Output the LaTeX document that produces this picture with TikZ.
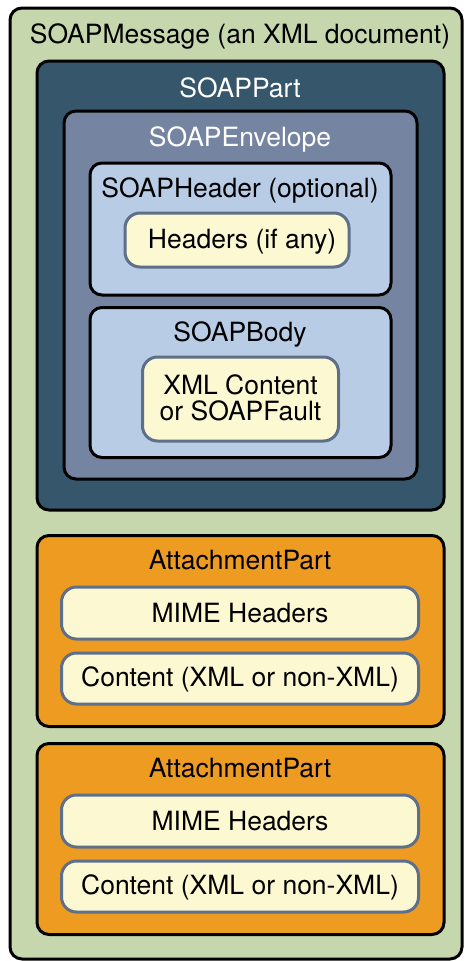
\documentclass[tikz,border=0pt]{standalone}
\usepackage{fontspec}
\setmainfont{TeX Gyre Heros}
\definecolor{msggreen}{HTML}{C6D6AD}
\definecolor{partblue}{HTML}{36566C}
\definecolor{envblue}{HTML}{7585A1}
\definecolor{hdrblue}{HTML}{B9CCE6}
\definecolor{leafyellow}{HTML}{FCF8D2}
\definecolor{leafedge}{HTML}{5E6F8A}
\definecolor{attorange}{HTML}{EE9B22}
\tikzset{
  soapbox/.style={draw=black, line width=3pt, rounded corners=12pt, inner sep=0pt, outer sep=0pt},
  leafbox/.style={draw=leafedge, fill=leafyellow, line width=3pt, rounded corners=15pt, inner sep=0pt, outer sep=0pt},
  lbl/.style={anchor=base, inner sep=0pt, font=\fontsize{26.5}{26}\selectfont}
}
\begin{document}
\begin{tikzpicture}[x=1pt,y=-1pt]
\useasboundingbox (0,0) rectangle (464,961);
% message and SOAP part
\node[soapbox, fill=msggreen, minimum width=452pt, minimum height=951pt] (msg) at (236,483.5) {};
\node[lbl] (msglbl) at (240,43) {SOAPMessage (an XML document)};
\node[soapbox, fill=partblue, minimum width=407pt, minimum height=449pt] (part) at (240.5,285.5) {};
\node[lbl, text=white] (partlbl) at (240,97) {SOAPPart};
\node[soapbox, fill=envblue, minimum width=353pt, minimum height=368pt] (env) at (240.5,295) {};
\node[lbl, text=white] (envlbl) at (240,146) {SOAPEnvelope};
\node[soapbox, fill=hdrblue, minimum width=301pt, minimum height=132pt] (hdr) at (240.5,229) {};
\node[lbl] (hdrlbl) at (240,197) {SOAPHeader (optional)};
\node[leafbox, minimum width=224pt, minimum height=54pt] (hdrs) at (237,240) {};
\node[lbl] (hdrstxt) at (242,248) {Headers (if any)};
\node[soapbox, fill=hdrblue, minimum width=301pt, minimum height=150pt] (body) at (240.5,382.5) {};
\node[lbl] (bodylbl) at (240,341) {SOAPBody};
\node[leafbox, minimum width=196pt, minimum height=84pt] (xml) at (240.5,399) {};
\node[inner sep=0pt, align=center, font=\fontsize{26.5}{26}\selectfont] (xmltxt) at (240.5,397.5) {XML Content\\or SOAPFault};
% attachment parts
\foreach \n/\s in {1/0,2/208} {
  \node[soapbox, fill=attorange, minimum width=407pt, minimum height=191pt] (att\n) at (240.5,631+\s) {};
  \node[lbl] (att\n lbl) at (240,569+\s) {AttachmentPart};
  \node[leafbox, minimum width=357pt, minimum height=52pt] (mime\n) at (240,613+\s) {};
  \node[lbl] (mime\n txt) at (240,622+\s) {MIME Headers};
  \node[leafbox, minimum width=357pt, minimum height=51pt] (cont\n) at (240,678.5+\s) {};
  \node[lbl] (cont\n txt) at (240,686+\s) {Content (XML or non-XML)};
}
\end{tikzpicture}
\end{document}
